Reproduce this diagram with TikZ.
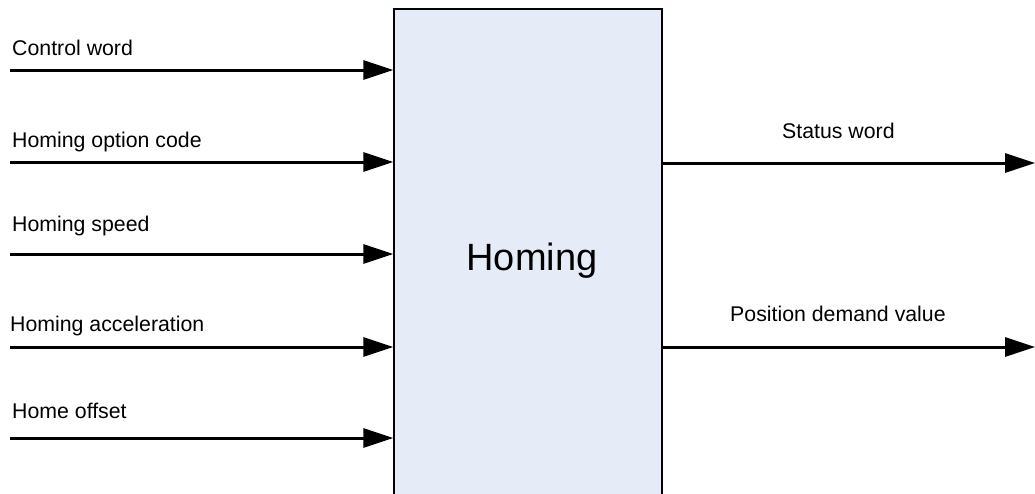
\documentclass[tikz,border=0pt]{standalone}
\usepackage{fontspec}
\setmainfont{Liberation Sans}
\usetikzlibrary{arrows.meta}
\begin{document}
\begin{tikzpicture}[x=1pt,y=-1pt,
  lbl/.style={anchor=base west,inner sep=0pt,font=\fontsize{21.3}{24}\selectfont},
  sig/.style={line width=3pt,-{Triangle[length=30pt,width=19pt]}},
  blockbox/.style={draw=black,line width=1.3pt,fill={rgb,255:red,230;green,236;blue,247},minimum width=268pt,minimum height=491pt,inner sep=0pt}]
\useasboundingbox (0,0) rectangle (1035,493);
\clip (0,0) rectangle (1035,493);
\node[blockbox] (homing) at (528,254.5) {};
\node[anchor=base,inner sep=0pt,font=\fontsize{38}{44}\selectfont] (title) at (532,270) {Homing};
% inputs
\coordinate (in1) at (10,70);
\coordinate (in2) at (10,162);
\coordinate (in3) at (10,254);
\coordinate (in4) at (10,347);
\coordinate (in5) at (10,438);
\node[lbl] (l1) at (12,55) {Control word};
\node[lbl] (l2) at (12,147) {Homing option code};
\node[lbl] (l3) at (12,231) {Homing speed};
\node[lbl] (l4) at (10,331) {Homing acceleration};
\node[lbl] (l5) at (12,418) {Home offset};
\foreach \i in {1,...,5}{
  \draw[sig] (in\i) -- (in\i -| homing.west);
}
% outputs
\coordinate (out1) at (1035,163);
\coordinate (out2) at (1035,347);
\node[lbl] (o1) at (782,138) {Status word};
\node[lbl] (o2) at (730,321) {Position demand value};
\draw[sig] (homing.east |- out1) -- (out1);
\draw[sig] (homing.east |- out2) -- (out2);
\end{tikzpicture}
\end{document}
